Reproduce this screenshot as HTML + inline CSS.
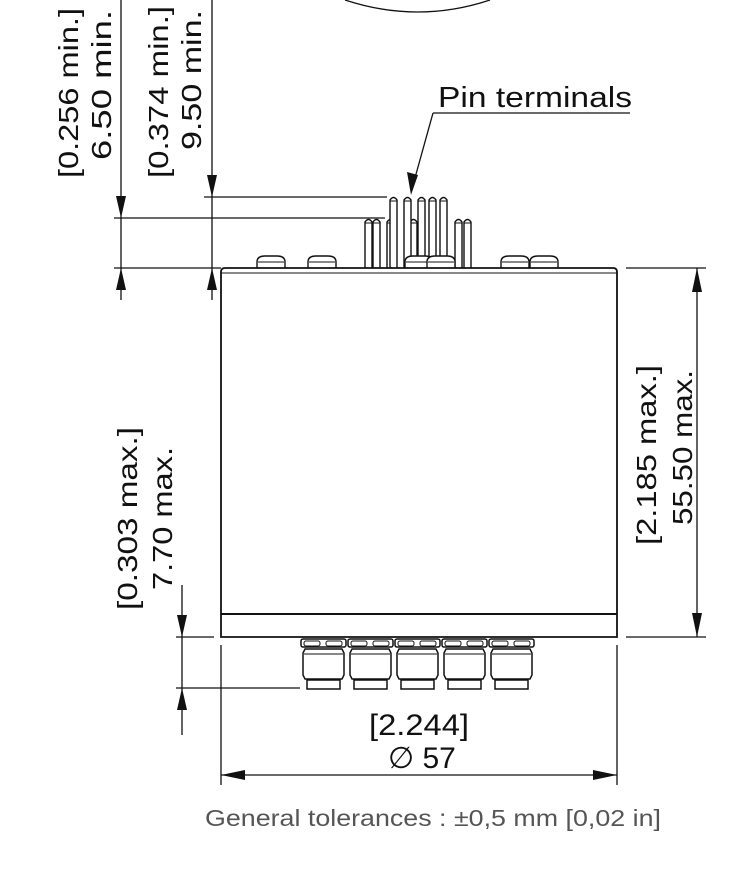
<!DOCTYPE html>
<html><head><meta charset="utf-8"><style>
html,body{margin:0;padding:0;background:#fff;}
svg{display:block;}
text{font-family:"Liberation Sans",sans-serif;fill:#111;}
</style></head><body>
<svg width="750" height="880" viewBox="0 0 750 880" xmlns="http://www.w3.org/2000/svg">
<defs>
<g id="fit">
 <rect x="0" y="2" width="45" height="8" rx="2" fill="#fff" stroke="#111" stroke-width="1.5"/>
 <rect x="3" y="4" width="16" height="5" rx="2" fill="none" stroke="#111" stroke-width="1"/>
 <rect x="25" y="4" width="16" height="5" rx="2" fill="none" stroke="#111" stroke-width="1"/>
 <path d="M4 12 L41 12 L43 16 L43 38 L41 42 L4 42 L2 38 L2 16 Z" fill="#fff" stroke="#111" stroke-width="1.5"/>
 <line x1="3" y1="17" x2="42" y2="17" stroke="#111" stroke-width="1"/>
 <rect x="6" y="43" width="33" height="9" fill="#fff" stroke="#111" stroke-width="1.5"/>
</g>
<g id="pinT"><path d="M0 268 L0 200 Q3.5 195 7 200 L7 268" fill="#fff" stroke="#111" stroke-width="1.4"/><line x1="0" y1="201" x2="7" y2="201" stroke="#111" stroke-width="1"/></g>
<g id="pinS"><path d="M0 268 L0 222 Q3.5 217 7 222 L7 268" fill="#fff" stroke="#111" stroke-width="1.4"/><line x1="0" y1="223" x2="7" y2="223" stroke="#111" stroke-width="1"/></g>
<g id="bump"><path d="M0 268 L0 262 Q0 256 8 256 L20 256 Q28 256 28 262 L28 268" fill="#fff" stroke="#111" stroke-width="1.4"/><line x1="1" y1="262" x2="27" y2="262" stroke="#111" stroke-width="1"/></g>
</defs>
<g stroke="#111" stroke-width="1.3" fill="none">
 <path d="M345 0 Q418 24 490 0"/>
 <line x1="121" y1="0" x2="121" y2="300"/>
 <line x1="212" y1="0" x2="212" y2="300"/>
 <line x1="114" y1="218" x2="385" y2="218"/>
 <line x1="204" y1="197" x2="387" y2="197"/>
 <line x1="114" y1="268" x2="221" y2="268"/>
 <line x1="697" y1="268" x2="697" y2="637"/>
 <line x1="626" y1="268" x2="706" y2="268"/>
 <line x1="626" y1="637" x2="706" y2="637"/>
 <line x1="182" y1="585" x2="182" y2="735"/>
 <line x1="176" y1="637" x2="214" y2="637"/>
 <line x1="176" y1="688" x2="300" y2="688"/>
 <line x1="221" y1="645" x2="221" y2="785"/>
 <line x1="617" y1="645" x2="617" y2="785"/>
 <line x1="221" y1="775" x2="617" y2="775"/>
 <line x1="433" y1="113" x2="630" y2="113"/>
 <line x1="433" y1="113" x2="413" y2="185"/>
</g>
<g fill="#111">
 <polygon points="121,218 116,196 126,196"/>
 <polygon points="121,268 116,290 126,290"/>
 <polygon points="212,197 207,175 217,175"/>
 <polygon points="212,268 207,290 217,290"/>
 <polygon points="697,268 692,292 702,292"/>
 <polygon points="697,637 692,613 702,613"/>
 <polygon points="182,637 177,615 187,615"/>
 <polygon points="182,688 177,710 187,710"/>
 <polygon points="221,775 245,770 245,780"/>
 <polygon points="617,775 593,770 593,780"/>
 <polygon points="411,195 407,172 418,175"/>
</g>
<use href="#pinS" x="365"/><use href="#pinS" x="373"/><use href="#pinS" x="387"/><use href="#pinS" x="410"/>
<use href="#pinS" x="455"/><use href="#pinS" x="464"/>
<use href="#pinT" x="390"/><use href="#pinT" x="404"/><use href="#pinT" x="418"/><use href="#pinT" x="429"/><use href="#pinT" x="440"/>
<use href="#bump" x="257"/><use href="#bump" x="308"/><use href="#bump" x="405"/><use href="#bump" x="427"/><use href="#bump" x="501"/><use href="#bump" x="530"/>
<path d="M221 637 L221 272 Q221 268 225 268 L613 268 Q617 268 617 272 L617 637 Z" fill="#fff" stroke="#111" stroke-width="1.8"/>
<line x1="221" y1="273" x2="617" y2="273" stroke="#111" stroke-width="1"/>
<line x1="221" y1="614" x2="617" y2="614" stroke="#111" stroke-width="2"/>
<use href="#fit" x="301" y="637"/><use href="#fit" x="348" y="637"/><use href="#fit" x="395" y="637"/><use href="#fit" x="442" y="637"/><use href="#fit" x="489" y="637"/>
<text x="438" y="107" font-size="29" textLength="194" lengthAdjust="spacingAndGlyphs">Pin terminals</text>
<text transform="translate(78,178) rotate(-90)" font-size="28" textLength="170" lengthAdjust="spacingAndGlyphs">[0.256 min.]</text>
<text transform="translate(111,160) rotate(-90)" font-size="28" textLength="150" lengthAdjust="spacingAndGlyphs">6.50 min.</text>
<text transform="translate(168,178) rotate(-90)" font-size="28" textLength="172" lengthAdjust="spacingAndGlyphs">[0.374 min.]</text>
<text transform="translate(201,150) rotate(-90)" font-size="28" textLength="140" lengthAdjust="spacingAndGlyphs">9.50 min.</text>
<text transform="translate(656,545) rotate(-90)" font-size="28" textLength="180" lengthAdjust="spacingAndGlyphs">[2.185 max.]</text>
<text transform="translate(692,525) rotate(-90)" font-size="28" textLength="155" lengthAdjust="spacingAndGlyphs">55.50 max.</text>
<text transform="translate(137,610) rotate(-90)" font-size="28" textLength="183" lengthAdjust="spacingAndGlyphs">[0.303 max.]</text>
<text transform="translate(172,590) rotate(-90)" font-size="28" textLength="143" lengthAdjust="spacingAndGlyphs">7.70 max.</text>
<text x="369" y="735" font-size="30" textLength="100" lengthAdjust="spacingAndGlyphs">[2.244]</text>
<text x="388" y="768" font-size="30">∅ 57</text>
<text x="205" y="826" font-size="23" style="fill:#555" textLength="456" lengthAdjust="spacingAndGlyphs">General tolerances : ±0,5 mm [0,02 in]</text>
</svg>
</body></html>
